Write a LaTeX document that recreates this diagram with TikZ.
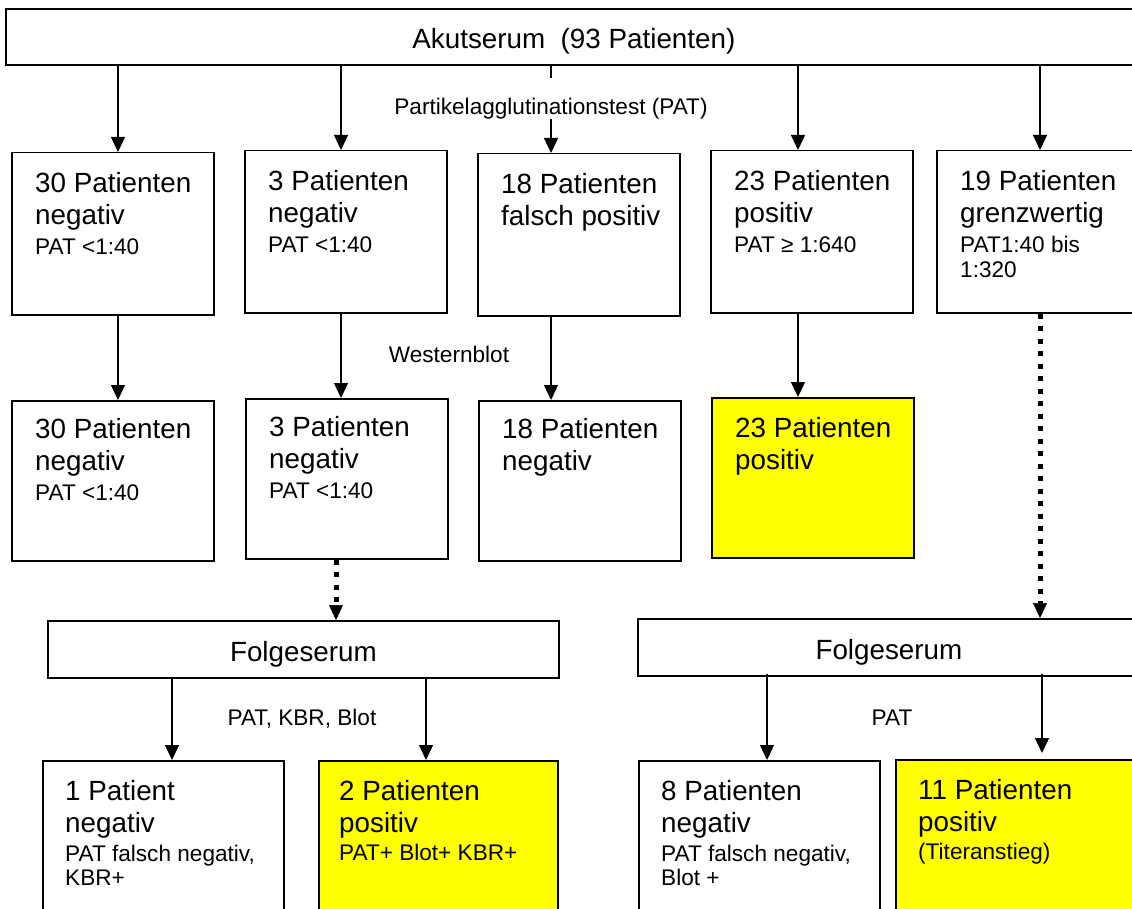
\documentclass[tikz,border=0pt]{standalone}
\usepackage{fontspec}
\setmainfont{Liberation Sans}
\usetikzlibrary{arrows.meta}
\definecolor{posyellow}{RGB}{255,255,0}
\newcommand{\bigf}{\fontsize{27.8}{32}\selectfont}
\newcommand{\smallf}{\fontsize{22.6}{26}\selectfont}
\tikzset{%
  patbox/.style  = {shape=rectangle, draw, line width=1.5pt, anchor=north west,%
                    inner sep=0pt, minimum width=202pt, minimum height=162pt},%
  posbox/.style  = {patbox, fill=posyellow},%
  headbox/.style = {shape=rectangle, draw, line width=1.8pt, anchor=north west,%
                    inner sep=0pt, font=\bigf, text height=24pt, text depth=0pt},%
  boxtext/.style = {anchor=north west, align=left, inner sep=0pt, font=\bigf,%
                    xshift=24pt, yshift=-20pt},%
  lbl/.style     = {font=\smallf, inner sep=0pt, anchor=base}%
}
\begin{document}
\begin{tikzpicture}
  [x=1pt, y=-1pt,
  arr/.style    = {-{Triangle[length=15pt,width=14pt]}, line width=1.3pt},
  dotarr/.style = {-{Triangle[length=15pt,width=14pt,line width=0.5pt]},
                   line width=5pt, dash pattern=on 5pt off 7.5pt}]
  \useasboundingbox (0,0) rectangle (1132,909);
  % arrow columns
  \coordinate (c1) at (118,0);
  \coordinate (c2) at (341,0);
  \coordinate (c3) at (551,0);
  \coordinate (c4) at (798,0);
  \coordinate (c5) at (1040,0);
  \coordinate (d1) at (336,0);
  \coordinate (e1) at (172,0);
  \coordinate (e2) at (426,0);
  \coordinate (e3) at (767,0);
  \coordinate (e4) at (1042,0);

  \node[headbox, minimum width=1136pt, minimum height=56pt] (akut) at (5,8)
    {Akutserum\ \ (93 Patienten)};

  % PAT
  \node[patbox, label={[boxtext]north west:{30 Patienten\\negativ\\[-2pt]{\smallf PAT <1:40}}}]
    (n1) at (11,152) {};
  \node[patbox, label={[boxtext]north west:{3 Patienten\\negativ\\[-2pt]{\smallf PAT <1:40}}}]
    (n2) at (244,150) {};
  \node[patbox, label={[boxtext]north west:{18 Patienten\\falsch positiv}}]
    (n3) at (477,153) {};
  \node[patbox, label={[boxtext]north west:{23 Patienten\\positiv\\[-2pt]{\smallf PAT ≥ 1:640}}}]
    (n4) at (710,150) {};
  \node[patbox, label={[boxtext]north west:{19 Patienten\\grenzwertig\\[-2pt]{\smallf PAT1:40 bis}\\[-7pt]{\smallf 1:320}}}]
    (n5) at (936,150) {};

  % Westernblot
  \node[patbox, minimum height=160pt, label={[boxtext, yshift=2pt]north west:{30 Patienten\\negativ\\[-2pt]{\smallf PAT <1:40}}}]
    (m1) at (11,400) {};
  \node[patbox, minimum height=160pt, label={[boxtext, yshift=2pt]north west:{3 Patienten\\negativ\\[-2pt]{\smallf PAT <1:40}}}]
    (m2) at (245,398) {};
  \node[patbox, minimum height=160pt, label={[boxtext, yshift=2pt]north west:{18 Patienten\\negativ}}]
    (m3) at (478,400) {};
  \node[posbox, minimum height=160pt, label={[boxtext]north west:{23 Patienten\\positiv}}]
    (m4) at (711,397) {};

  \node[headbox, minimum width=511pt, minimum height=57pt] (f1) at (47,620) {Folgeserum};
  \node[headbox, minimum width=502pt, minimum height=57pt] (f2) at (637,618) {Folgeserum};

  \node[patbox, minimum width=241pt, minimum height=170pt, label={[boxtext, xshift=-1pt]north west:{1 Patient\\negativ\\[-3pt]{\smallf PAT falsch negativ,}\\[-8pt]{\smallf KBR+}}}]
    (b1) at (42,760) {};
  \node[posbox, minimum width=239pt, minimum height=170pt, label={[boxtext, xshift=-3pt]north west:{2 Patienten\\positiv\\[-4pt]{\smallf PAT+ Blot+ KBR+}}}]
    (b2) at (318,760) {};
  \node[patbox, minimum width=241pt, minimum height=170pt, label={[boxtext, xshift=-1pt]north west:{8 Patienten\\negativ\\[-3pt]{\smallf PAT falsch negativ,}\\[-8pt]{\smallf Blot +}}}]
    (b3) at (638,760) {};
  \node[posbox, minimum width=240pt, minimum height=170pt, label={[boxtext, xshift=-1pt]north west:{11 Patienten\\positiv\\[-4pt]{\smallf (Titeranstieg)}}}]
    (b4) at (895,759) {};

  % connectors
  \draw[arr] (akut.south -| c1) -- (n1.north -| c1);
  \draw[arr] (akut.south -| c2) -- (n2.north -| c2);
  \draw[arr] (akut.south -| c3) -- node[lbl, pos=0.557, fill=white, text height=36pt, text depth=5pt]
    {Partikelagglutinationstest (PAT)} (n3.north -| c3);
  \draw[arr] (akut.south -| c4) -- (n4.north -| c4);
  \draw[arr] (akut.south -| c5) -- (n5.north -| c5);

  \draw[arr] (n1.south -| c1) -- (m1.north -| c1);
  \draw[arr] (n2.south -| c2) -- (m2.north -| c2);
  \draw[arr] (n3.south -| c3) -- (m3.north -| c3);
  \draw[arr] (n4.south -| c4) -- (m4.north -| c4);
  \node[lbl] (wblot) at (449,362) {Westernblot};

  \draw[dotarr] (m2.south -| d1) -- (f1.north -| d1);
  \draw[dotarr] (n5.south -| c5) -- (f2.north -| c5);

  \draw[arr] (f1.south -| e1) -- (b1.north -| e1);
  \draw[arr] (f1.south -| e2) -- (b2.north -| e2);
  \node[lbl] (pkb) at (302,725) {PAT, KBR, Blot};
  \draw[arr] ([yshift=3pt]f2.south -| e3) -- (b3.north -| e3);
  \draw[arr, shorten >=6pt] ([yshift=3pt]f2.south -| e4) -- (b4.north -| e4);
  \node[lbl] (pat) at (892,725) {PAT};
\end{tikzpicture}
\end{document}
